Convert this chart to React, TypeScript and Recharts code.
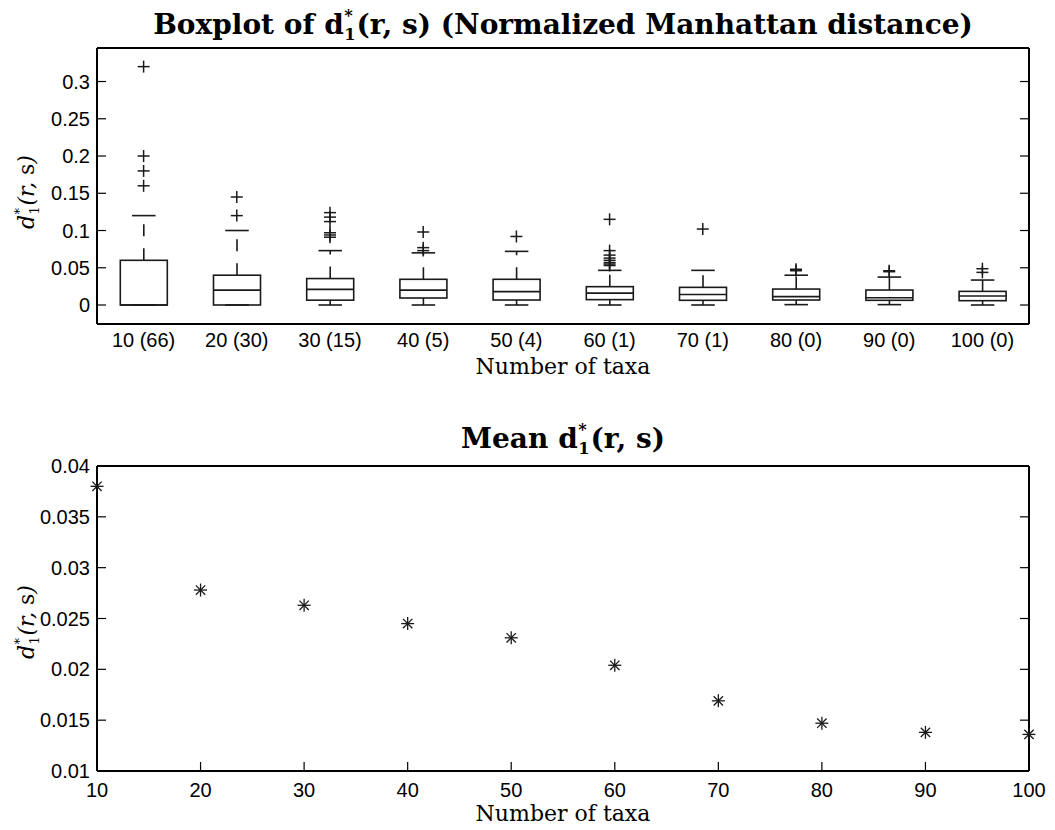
import React from "react";
import { Bar, ComposedChart, Scatter, ScatterChart, XAxis, YAxis } from "recharts";

// box plot, one entry per taxa count (number of outliers-free runs in brackets)
const categories = ["10 (66)", "20 (30)", "30 (15)", "40 (5)", "50 (4)", "60 (1)", "70 (1)", "80 (0)", "90 (0)", "100 (0)"];
const whiskerLow = [0, 0, 0, 0, 0, 0, 0, 0.0005, 0.0005, 0];
const boxLow = [0, 0, 0.0065, 0.0094, 0.0067, 0.0072, 0.0063, 0.0067, 0.0063, 0.0058];
const medians = [0, 0.02, 0.021, 0.02, 0.018, 0.016, 0.014, 0.0112, 0.0098, 0.0121];
const boxHigh = [0.06, 0.04, 0.0355, 0.0345, 0.0345, 0.0246, 0.0237, 0.0214, 0.0201, 0.0183];
const whiskerHigh = [0.12, 0.1, 0.073, 0.07, 0.072, 0.0465, 0.0465, 0.04, 0.0375, 0.0335];
const outliers = [
  [0.32, 0.2, 0.18, 0.16],
  [0.145, 0.12],
  [0.124, 0.118, 0.112, 0.097, 0.094, 0.091],
  [0.098, 0.077, 0.073],
  [0.092],
  [0.115, 0.073, 0.067, 0.063, 0.06, 0.057, 0.055, 0.053],
  [0.102],
  [0.048, 0.046],
  [0.046, 0.0447],
  [0.0487, 0.0438],
];
const boxTicks = [0, 0.05, 0.1, 0.15, 0.2, 0.25, 0.3];

// mean distance
const taxa = [10, 20, 30, 40, 50, 60, 70, 80, 90, 100];
const meanDistance = [0.038, 0.0278, 0.0263, 0.0245, 0.0231, 0.0204, 0.0169, 0.0147, 0.0138, 0.0136];
const meanTicks = [0.01, 0.015, 0.02, 0.025, 0.03, 0.035, 0.04];

const boxData = categories.map((cat, i) => ({
  cat,
  range: [whiskerLow[i], whiskerHigh[i]],
  lo: whiskerLow[i],
  q1: boxLow[i],
  med: medians[i],
  q3: boxHigh[i],
  hi: whiskerHigh[i],
}));
const outlierData = categories.flatMap((cat, i) => outliers[i].map((v) => ({ cat, v })));
const meanData = taxa.map((t, i) => ({ t, m: meanDistance[i] }));

const INK = "#1a1a1a";
const tickFont = { fill: "#000", fontSize: 20, fontFamily: "'Liberation Sans', Arial, sans-serif" };
const serif = "'DejaVu Serif', serif";
const blank = () => "";

function BoxShape(props: any) {
  const { x, y, width, height, payload } = props;
  const { lo, q1, med, q3, hi } = payload;
  const py = (v: number) => y + (height * (hi - v)) / (hi - lo);
  const cx = x + width / 2;
  const cap = width / 4;
  return (
    <g stroke={INK} strokeWidth={1.6} fill="none">
      <line x1={cx} x2={cx} y1={py(q3)} y2={py(hi)} strokeDasharray="12 12" />
      <line x1={cx} x2={cx} y1={py(q1)} y2={py(lo)} strokeDasharray="12 12" />
      <line x1={cx - cap} x2={cx + cap} y1={py(hi)} y2={py(hi)} />
      <line x1={cx - cap} x2={cx + cap} y1={py(lo)} y2={py(lo)} />
      <rect x={x} y={py(q3)} width={width} height={py(q1) - py(q3)} />
      <line x1={x} x2={x + width} y1={py(med)} y2={py(med)} />
    </g>
  );
}

function Plus(props: any) {
  const { cx, cy } = props;
  const r = 6;
  return (
    <g stroke={INK} strokeWidth={1.5}>
      <line x1={cx - r} x2={cx + r} y1={cy} y2={cy} />
      <line x1={cx} x2={cx} y1={cy - r} y2={cy + r} />
    </g>
  );
}

function Asterisk(props: any) {
  const { cx, cy } = props;
  const r = 6.5;
  const d = r * 0.72;
  return (
    <g stroke={INK} strokeWidth={1.3}>
      <line x1={cx - r} x2={cx + r} y1={cy} y2={cy} />
      <line x1={cx} x2={cx} y1={cy - r} y2={cy + r} />
      <line x1={cx - d} x2={cx + d} y1={cy - d} y2={cy + d} />
      <line x1={cx - d} x2={cx + d} y1={cy + d} y2={cy - d} />
    </g>
  );
}

function DStar({ italic }: { italic?: boolean }) {
  return (
    <>
      <span style={{ fontStyle: italic ? "italic" : "normal" }}>d</span>
      <span
        style={{
          display: "inline-block",
          verticalAlign: "middle",
          fontSize: "0.58em",
          lineHeight: 1.15,
          textAlign: "left",
          marginLeft: "0.03em",
          marginRight: "0.06em",
        }}
      >
        <span style={{ display: "block" }}>*</span>
        <span style={{ display: "block", fontStyle: "normal" }}>1</span>
      </span>
    </>
  );
}

function Overlay({ left, top, rotate, style, children }: any) {
  return (
    <div
      style={{
        position: "absolute",
        left,
        top,
        transform: `translate(-50%, -50%)${rotate ? " rotate(-90deg)" : ""}`,
        whiteSpace: "nowrap",
        lineHeight: 1,
        color: "#000",
        ...style,
      }}
    >
      {children}
    </div>
  );
}

const axisLine = { stroke: "#000", strokeWidth: 2 };
const tickLine = { stroke: "#000", strokeWidth: 1.2 };

export default function App() {
  const titleStyle = { fontFamily: serif, fontWeight: 700, fontSize: 28 };
  const labelStyle = { fontFamily: serif, fontSize: 22 };
  const ylabStyle = { fontFamily: serif, fontSize: 22, fontStyle: "italic" as const };
  return (
    <div style={{ position: "fixed", left: 0, top: 0, width: 1055, height: 830, background: "#fff" }}>
      <div style={{ position: "absolute", left: 0, top: 0 }}>
        <ComposedChart width={1055} height={400} data={boxData} margin={{ top: 47, right: 25, left: 0, bottom: 0 }} barCategoryGap="25%">
          <XAxis dataKey="cat" type="category" allowDuplicatedCategory={false} height={76} axisLine={axisLine} tickLine={false} tickSize={0} tickMargin={9} tick={tickFont} interval={0} />
          <XAxis xAxisId="top" dataKey="cat" type="category" allowDuplicatedCategory={false} orientation="top" height={1} axisLine={axisLine} tickLine={false} tickFormatter={blank} interval={0} />
          <YAxis type="number" domain={[-0.0255, 0.345]} allowDataOverflow ticks={boxTicks} width={97} axisLine={axisLine} tickLine={tickLine} tickSize={-9} tickMargin={16} tick={tickFont} interval={0} />
          <YAxis yAxisId="right" orientation="right" type="number" domain={[-0.0255, 0.345]} allowDataOverflow ticks={boxTicks} width={1} axisLine={axisLine} tickLine={tickLine} tickSize={-9} tickFormatter={blank} interval={0} />
          <Bar dataKey="range" shape={(p: any) => <BoxShape {...p} />} isAnimationActive={false} />
          <Scatter data={outlierData} dataKey="v" shape={(p: any) => <Plus {...p} />} isAnimationActive={false} />
        </ComposedChart>
      </div>
      <div style={{ position: "absolute", left: 0, top: 400 }}>
        <ScatterChart width={1055} height={430} margin={{ top: 65, right: 25, left: 0, bottom: 0 }}>
          <XAxis dataKey="t" type="number" domain={[10, 100]} ticks={taxa} height={59} axisLine={axisLine} tickLine={tickLine} tickSize={-9} tickMargin={21} tick={tickFont} interval={0} />
          <XAxis xAxisId="top" dataKey="t" type="number" orientation="top" domain={[10, 100]} ticks={taxa} height={1} axisLine={axisLine} tickLine={tickLine} tickSize={-9} tickFormatter={blank} interval={0} />
          <YAxis dataKey="m" type="number" domain={[0.01, 0.04]} allowDataOverflow ticks={meanTicks} width={97} axisLine={axisLine} tickLine={tickLine} tickSize={-9} tickMargin={16} tick={tickFont} interval={0} />
          <YAxis yAxisId="right" orientation="right" dataKey="m" type="number" domain={[0.01, 0.04]} allowDataOverflow ticks={meanTicks} width={1} axisLine={axisLine} tickLine={tickLine} tickSize={-9} tickFormatter={blank} interval={0} />
          <Scatter data={meanData} shape={(p: any) => <Asterisk {...p} />} isAnimationActive={false} />
        </ScatterChart>
      </div>

      <Overlay left={563} top={26} style={titleStyle}>
        Boxplot of <DStar />(r, s) (Normalized Manhattan distance)
      </Overlay>
      <Overlay left={563} top={367} style={labelStyle}>Number of taxa</Overlay>
      <Overlay left={28} top={192} rotate style={ylabStyle}>
        <DStar italic />(r, <span style={{ fontStyle: "normal" }}>s</span>)
      </Overlay>

      <Overlay left={563} top={440} style={titleStyle}>
        Mean <DStar />(r, s)
      </Overlay>
      <Overlay left={563} top={814} style={labelStyle}>Number of taxa</Overlay>
      <Overlay left={28} top={622} rotate style={ylabStyle}>
        <DStar italic />(r, <span style={{ fontStyle: "normal" }}>s</span>)
      </Overlay>
    </div>
  );
}
